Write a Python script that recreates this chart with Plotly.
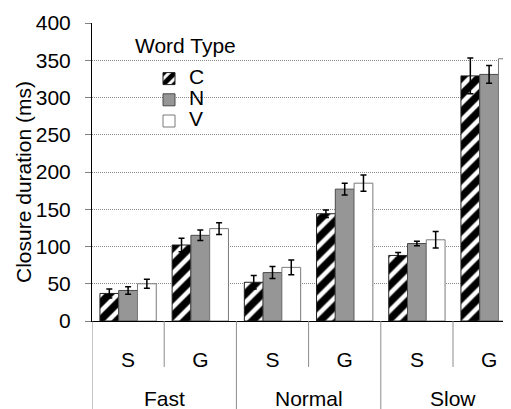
import plotly.graph_objects as go

speeds = ["Fast", "Normal", "Slow"]
groups = ["Fast S", "Fast G", "Normal S", "Normal G", "Slow S", "Slow G"]
inner_labels = ["S", "G", "S", "G", "S", "G"]
word_types = ["C", "N", "V"]

C_vals = [37, 102, 52, 144, 88, 329]
N_vals = [41, 115, 65, 177, 104, 331]
V_vals = [50, 124, 72, 185, 109, 352]
C_err = [6, 9, 9, 5, 4, 24]
N_err = [5, 7, 8, 8, 3, 12]
V_err = [6, 8, 10, 11, 11, 24]

y_ticks = [0, 50, 100, 150, 200, 250, 300, 350, 400]

FONT = "Liberation Sans, Arial, sans-serif"
FS = 21
OFF = 8  # default page body margin
W, H = 511 - OFF, 409 - OFF
ML, MR, MT = 92 - OFF, 0, 23 - OFF
MB = H - (321 - OFF)
plot_w = W - ML - MR
plot_h = H - MT - MB
group_px = 72.2

xs = list(range(len(groups)))

def py(screen_y):
    return (H - MB - (screen_y - OFF)) / plot_h

def px_x(screen_x):
    return (screen_x - OFF - ML) / plot_w

def err(arr):
    return dict(type="data", array=arr, visible=True, color="black",
                thickness=1.5, width=3)

def lname(t):
    return f'<span style="font-size:{FS}px">{t}</span>'

fig = go.Figure()
fig.add_trace(go.Bar(
    name=lname(word_types[0]), x=xs, y=C_vals, error_y=err(C_err),
    marker=dict(color="white",
                pattern=dict(shape="/", fgcolor="black", bgcolor="white",
                             size=12, solidity=0.62, fillmode="replace"),
                line=dict(color="#202020", width=1)),
))
fig.add_trace(go.Bar(
    name=lname(word_types[1]), x=xs, y=N_vals, error_y=err(N_err),
    marker=dict(color="#969696", line=dict(color="#4a4a4a", width=1)),
))
fig.add_trace(go.Bar(
    name=lname(word_types[2]), x=xs, y=V_vals, error_y=err(V_err),
    marker=dict(color="white", line=dict(color="#7a7a7a", width=1)),
))

shapes = []
for i in range(0, len(groups), 2):
    b = i + 0.5
    shapes.append(dict(type="line", xref="x", yref="paper", x0=b, x1=b,
                       y0=0, y1=-46 / plot_h, line=dict(color="#8c8c8c", width=1)))
for i in range(0, len(groups) + 1, 2):
    b = i - 0.5
    shapes.append(dict(type="line", xref="x", yref="paper", x0=b, x1=b,
                       y0=0, y1=-MB / plot_h, line=dict(color="#8c8c8c", width=1)))

annotations = []
for k, s in enumerate(speeds):
    annotations.append(dict(x=2 * k + 0.5, xref="x", y=py(398), yref="paper",
                            text=s, showarrow=False, yanchor="middle",
                            font=dict(family=FONT, size=FS, color="black")))
annotations.append(dict(x=px_x(185), xref="paper", y=py(45), yref="paper",
                        text="Word Type", showarrow=False,
                        xanchor="center", yanchor="middle",
                        font=dict(family=FONT, size=FS, color="black")))
annotations.append(dict(x=px_x(23), xref="paper", y=py(182), yref="paper",
                        text="Closure duration (ms)", showarrow=False, textangle=-90,
                        xanchor="center", yanchor="middle",
                        font=dict(family=FONT, size=FS, color="black")))

fig.update_layout(
    width=W, height=H,
    margin=dict(l=ML, r=MR, t=MT, b=MB, autoexpand=False),
    paper_bgcolor="white", plot_bgcolor="white",
    barmode="group", bargap=0.22, bargroupgap=0,
    font=dict(family=FONT, size=FS, color="black"),
    showlegend=True,
    legend=dict(x=px_x(149), y=py(63), xanchor="left", yanchor="top",
                bgcolor="rgba(0,0,0,0)", font=dict(family=FONT, size=14),
                tracegroupgap=0, borderwidth=0),
    shapes=shapes,
    annotations=annotations,
    xaxis=dict(range=[-0.5, plot_w / group_px - 0.5], automargin=False,
               tickmode="array", tickvals=xs, ticktext=inner_labels,
               ticks="", showgrid=False, zeroline=False,
               showline=True, linecolor="black", linewidth=1,
               ticklabelstandoff=20,
               tickfont=dict(family=FONT, size=FS, color="black")),
    yaxis=dict(range=[0, 400], tickvals=y_ticks, ticks="outside", ticklen=6,
               automargin=False,
               tickcolor="#808080", showline=True, linecolor="black", linewidth=1,
               showgrid=True, gridcolor="#8a8a8a", griddash="1px,1px", gridwidth=1,
               zeroline=False, ticklabelstandoff=10,
               tickfont=dict(family=FONT, size=FS, color="black")),
)

fig.write_html("out.html")
